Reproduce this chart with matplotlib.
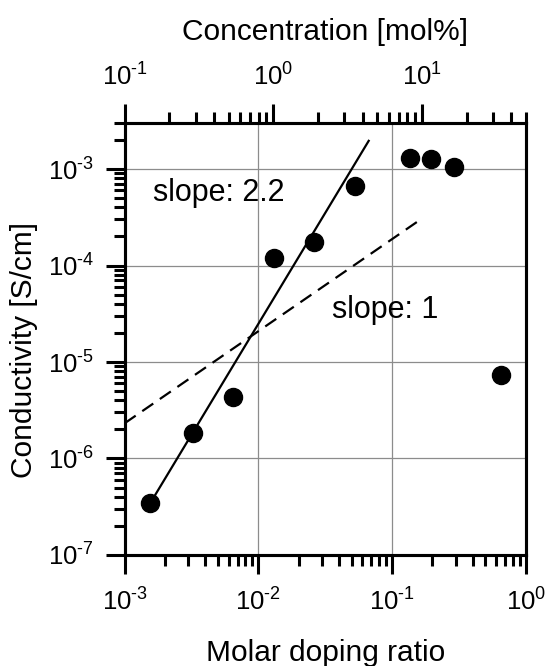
import math
import matplotlib
matplotlib.use('Agg')
import matplotlib.pyplot as plt
from matplotlib.ticker import LogLocator, FixedLocator, NullFormatter, FuncFormatter

plt.rcParams['font.family'] = ['Liberation Sans', 'DejaVu Sans']
plt.rcParams['mathtext.fontset'] = 'custom'
plt.rcParams['mathtext.rm'] = 'Liberation Sans'
plt.rcParams['mathtext.default'] = 'regular'

# measured points
ratio = [1.55e-3, 3.23e-3, 6.51e-3, 0.0130, 0.0259, 0.0531, 0.137, 0.196, 0.289, 0.655]
sigma = [3.43e-7, 1.82e-6, 4.31e-6, 1.20e-4, 1.77e-4, 6.67e-4, 1.29e-3, 1.28e-3, 1.04e-3, 7.33e-6]

# guide lines (end points)
fit_x = [1.55e-3, 0.0669]
fit_y = [3.43e-7, 1.96e-3]
lin_x = [1.0e-3, 0.168]
lin_y = [2.32e-6, 3.08e-4]

fig = plt.figure(figsize=(5.45, 6.66), dpi=100)
ax = fig.add_axes([0.2288, 0.1667, 0.7358, 0.6486])

ax.set_xscale('log')
ax.set_yscale('log')
ax.set_xlim(1e-3, 1e0)
ax.set_ylim(1e-7, 3e-3)

ax.grid(True, which='major', color='#8c8c8c', lw=0.9)
ax.set_axisbelow(True)

ax.plot(fit_x, fit_y, color='black', lw=1.6, zorder=3)
ax.plot(lin_x, lin_y, color='black', lw=1.6, dashes=(6, 3.6), zorder=3)
ax.plot(ratio, sigma, 'o', color='black', ms=13, zorder=4)

ax.text(1.63e-3, 5.6e-4, 'slope: 2.2', fontsize=22, va='center', ha='left')
ax.text(0.0355, 3.46e-5, 'slope: 1', fontsize=22, va='center', ha='left')


def pow_label(v, pos):
    e = int(round(math.log10(v)))
    if e < 0:
        return r'$10^{\text{-}%d}$' % (-e)
    return r'$10^{%d}$' % e


fmt = FuncFormatter(pow_label)
ax.xaxis.set_major_locator(LogLocator(base=10, numticks=10))
ax.xaxis.set_minor_locator(LogLocator(base=10, subs=range(2, 10), numticks=20))
ax.xaxis.set_major_formatter(fmt)
ax.xaxis.set_minor_formatter(NullFormatter())
ax.yaxis.set_major_locator(LogLocator(base=10, numticks=10))
ax.yaxis.set_minor_locator(LogLocator(base=10, subs=range(2, 10), numticks=20))
ax.yaxis.set_major_formatter(fmt)
ax.yaxis.set_minor_formatter(NullFormatter())

for s in ax.spines.values():
    s.set_linewidth(2.2)
ax.tick_params(which='both', direction='out', width=2.2, top=False, right=False)
ax.tick_params(which='major', length=14, labelsize=18.5)
ax.tick_params(which='minor', length=7.8)
ax.tick_params(axis='x', which='major', pad=10)
ax.tick_params(axis='y', which='major', pad=8)

ax.set_xlabel('Molar doping ratio', fontsize=21.5)
ax.xaxis.set_label_coords(0.5, -0.195)
ax.set_ylabel('Conductivity [S/cm]', fontsize=21.5)
ax.yaxis.set_label_coords(-0.215, 0.475)

# top axis: concentration in mol%
top = ax.twiny()
top.set_xscale('log')
top.set_xlim(0.1, 50)
top.xaxis.set_major_locator(FixedLocator([0.1, 1, 10]))
top.xaxis.set_minor_locator(LogLocator(base=10, subs=range(2, 10), numticks=20))
top.xaxis.set_major_formatter(fmt)
top.xaxis.set_minor_formatter(NullFormatter())
top.tick_params(which='both', direction='out', width=2.2)
top.tick_params(which='major', length=14, labelsize=18.5, pad=9)
top.tick_params(which='minor', length=7.8)
for s in top.spines.values():
    s.set_linewidth(2.2)
top.set_xlabel('Concentration [mol%]', fontsize=21.5, labelpad=17)

fig.savefig('out.png', dpi=100)
